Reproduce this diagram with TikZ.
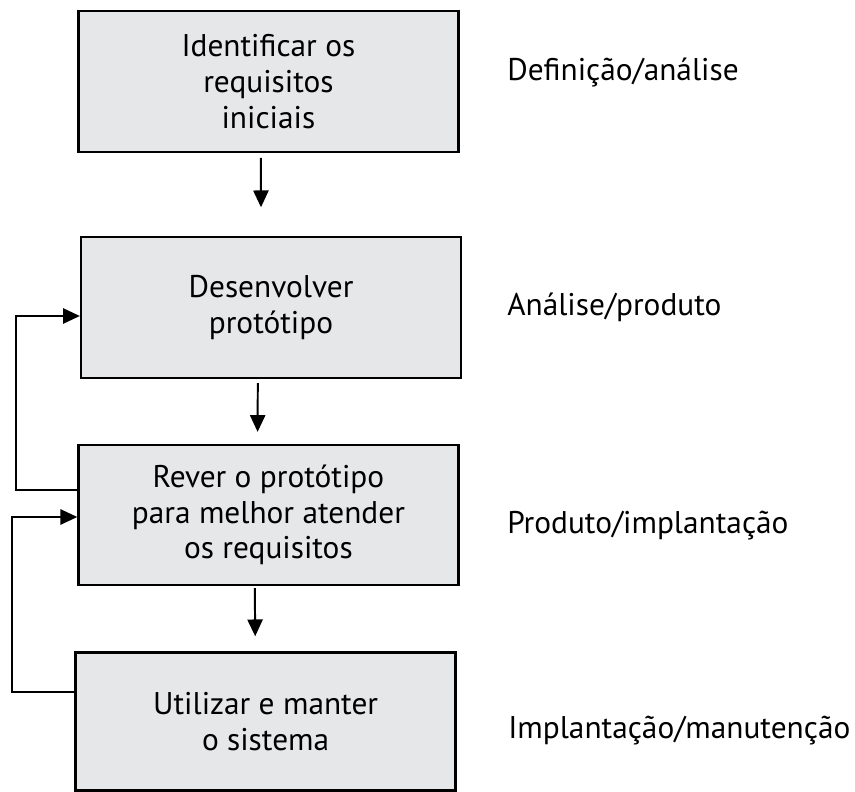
\documentclass[tikz,border=0pt]{standalone}
\usepackage{fontspec}
\setmainfont{PT Sans}
\usetikzlibrary{arrows.meta,positioning}
\definecolor{caixa}{RGB}{230,231,232}

\begin{document}
\begin{tikzpicture}[auto,
    etapa/.style={rectangle, draw, fill=caixa, line width=1.6pt, minimum width=9.5cm, minimum height=3.52cm, align=center, font=\fontsize{22.3}{25.3}\selectfont},
    fase/.style={anchor=base west, inner sep=0pt, font=\fontsize{22.3}{25.3}\selectfont},
    seta/.style={-{Triangle[length=0.42cm,width=0.38cm]}, line width=1.4pt}]
    \useasboundingbox (0,0) rectangle (21.375,-19.8);
    \node[etapa] (ident) at (6.71,-2.04) {Identificar os\\requisitos\\ iniciais};
    \node[etapa] (desenv) at (6.775,-7.69) {Desenvolver\\protótipo};
    \node[etapa, minimum height=3.5cm] (rever) at (6.71,-12.875) {Rever o protótipo\\para melhor atender\\os requisitos};
    \node[etapa, minimum height=3.45cm] (utiliz) at (6.64,-18.04) {Utilizar e manter\\o sistema};

    \node[fase] (f1) at (12.675,-2.0) {Definição/análise};
    \node[fase] (f2) at (12.675,-7.875) {Análise/produto};
    \node[fase] (f3) at (12.675,-13.33) {Produto/implantação};
    \node[fase] (f4) at (12.7,-18.45) {Implantação/manutenção};

    \coordinate (volta1) at (0.4,-10);
    \coordinate (volta2) at (0.3,-15);

    \draw[seta] ([xshift=-0.19cm,yshift=-0.12cm]ident.south) -- ([xshift=-0.25cm,yshift=0.72cm]desenv.north);
    \draw[seta] ([xshift=-0.33cm,yshift=-0.1cm]desenv.south) -- ([xshift=-0.27cm,yshift=0.3cm]rever.north);
    \draw[seta] ([xshift=-0.34cm,yshift=-0.05cm]rever.south) -- ([xshift=-0.26cm,yshift=0.38cm]utiliz.north);
    \draw[seta] ([yshift=0.625cm]rever.west) -| (volta1) |- ([yshift=-0.21cm]desenv.west);
    \draw[seta] ([yshift=0.74cm]utiliz.west) -| (volta2) |- ([yshift=-0.05cm]rever.west);
\end{tikzpicture}
\end{document}
